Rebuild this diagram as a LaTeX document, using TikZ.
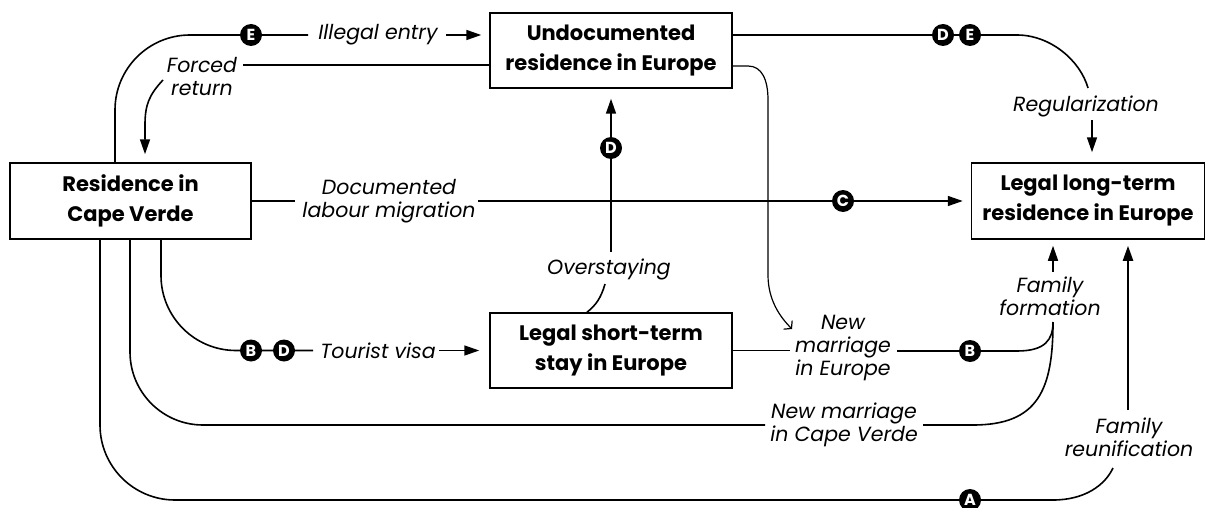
\documentclass[tikz,border=0pt]{standalone}
\usepackage{fontspec}
\setmainfont{Poppins}
\usetikzlibrary{arrows.meta}
\begin{document}
\begin{tikzpicture}[x=1pt,y=-1pt,
  box/.style={draw, line width=1.5pt, inner sep=0pt, align=center,
    font=\fontsize{21}{30}\selectfont\bfseries},
  lbl/.style={inner sep=0pt, align=center, font=\fontsize{20.5}{23}\selectfont\itshape},
  circ/.style={circle, fill=black, inner sep=0pt, minimum size=22pt, text=white,
    font=\fontsize{16}{16}\selectfont\bfseries},
  conn/.style={line width=1.6pt},
  arr/.style={conn, -{Triangle[length=15pt,width=10pt]}},
]
\useasboundingbox (0,0) rectangle (1206,508);
% boxes
\node[box, minimum width=241pt, minimum height=76pt] (res) at (130.5,201) {Residence in\\Cape Verde};
\node[box, minimum width=242pt, minimum height=75pt] (und) at (611,50.5) {Undocumented\\residence in Europe};
\node[box, minimum width=233pt, minimum height=76pt] (lon) at (1088,201) {Legal long-term\\residence in Europe};
\node[box, minimum width=242pt, minimum height=75pt] (sho) at (611,350.5) {Legal short-term\\stay in Europe};
% labels
\node[lbl] (illegal) at (378,35) {Illegal entry};
\node[lbl] (forced) at (202,77) {Forced\\return};
\node[lbl] (docl) at (389,201) {Documented\\labour migration};
\node[lbl] (overst) at (609,269) {Overstaying};
\node[lbl] (regul) at (1086,106) {Regularization};
\node[lbl] (tourist) at (378,350.5) {Tourist visa};
\node[lbl] (nme) at (843,348) {New\\marriage\\in Europe};
\node[lbl] (nmc) at (844,425) {New marriage\\in Cape Verde};
\node[lbl] (famf) at (1050,296) {Family\\formation};
\node[lbl] (famr) at (1129,437) {Family\\reunification};
% connectors
\draw[conn, rounded corners=75pt] ([xshift=-15.5pt]res.north) |- (308,35);
\draw[arr, shorten >=8pt] (446,35) -- (und.west |- 446,35);
\draw[conn] ([yshift=-14.5pt]und.west) -- (243,65);
\draw[arr, shorten >=8pt] (163,80) .. controls (149,95) and (145,105) .. (145,125) -- ([xshift=14.5pt]res.north);
\draw[conn] (res.east) -- (295,201);
\draw[arr, shorten >=8pt] (478,201) -- (lon.west);
\draw[arr, shorten >=10pt] (611,252) -- (und.south);
\draw[conn] (605,284) .. controls (601,298) and (596,305) .. ([xshift=-24pt]sho.north);
\draw[conn] ([yshift=15.5pt]und.east) -- (1017,35) .. controls (1050,35) and (1080,60) .. (1088,88);
\draw[arr, shorten >=10pt] (1092,120) -- ([xshift=4pt]lon.north);
\draw[line width=1.2pt, -{Straight Barb[length=5pt,width=12pt]}] ([yshift=-15.5pt]und.east) -- (748,66) .. controls (762,66) and (768,80) .. (768,100) -- (768,275) .. controls (768,300) and (780,317) .. (792,329);
\draw[conn, rounded corners=75pt] ([xshift=30.5pt]res.south) |- (313,350.5);
\draw[arr, shorten >=10pt] (439,350.5) -- (sho.west);
\draw[conn] (sho.east) -- (790,350.5);
\draw[conn] (897,351) -- (1017,351) .. controls (1045,351) and (1053,340) .. (1053,322);
\draw[conn, rounded corners=73pt] ([xshift=-0.5pt]res.south) |- (765,425);
\draw[conn] (923,425) -- (973,425) .. controls (1038,425) and (1053,390) .. (1053,322);
\draw[arr, shorten >=6pt] (1053,272) -- (lon.south -| 1053,272);
\draw[conn, rounded corners=75pt] ([xshift=-30.5pt]res.south) |- (1053,500);
\draw[conn] (1053,500) .. controls (1085,500) and (1105,485) .. (1113,468);
\draw[arr, line width=2.2pt, shorten >=6pt] (1128,410) -- (lon.south -| 1128,410);
% circles
\node[circ] (e1) at (251,35) {E};
\node[circ] (d2) at (943,35) {D};
\node[circ] (e2) at (970,35) {E};
\node[circ] (d1) at (611,148) {D};
\node[circ] (c1) at (843,201) {C};
\node[circ] (b1) at (251,350.5) {B};
\node[circ] (d3) at (284,350.5) {D};
\node[circ] (b2) at (970,351) {B};
\node[circ] (a1) at (970,500) {A};
\end{tikzpicture}
\end{document}
